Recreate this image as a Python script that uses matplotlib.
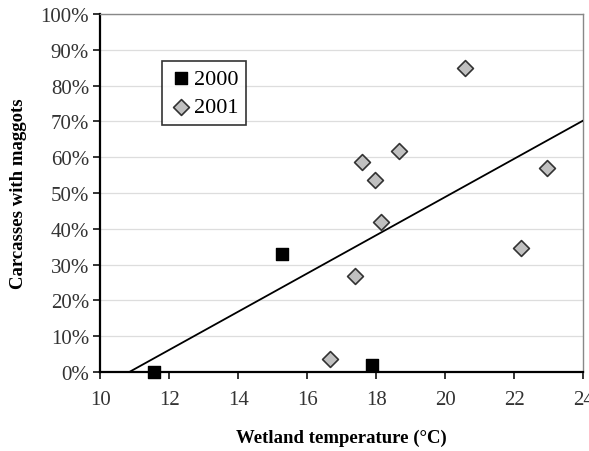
import numpy as np
import matplotlib.pyplot as plt
from matplotlib.ticker import PercentFormatter

plt.rcParams['font.family'] = ['Liberation Serif', 'DejaVu Serif']

# data
temp_2000 = [11.55, 15.27, 17.88]
pct_2000 = [0.0, 33.0, 2.0]

temp_2001 = [16.67, 17.39, 17.58, 17.97, 18.15, 18.67, 20.59, 22.19, 22.95]
pct_2001 = [3.7, 26.9, 58.6, 53.5, 42.0, 61.7, 85.0, 34.6, 57.0]

# trend line ends
trend_x = [10.85, 24.0]
trend_y = [0.0, 70.2]

fig = plt.figure(figsize=(5.89, 4.52), dpi=100)
ax = fig.add_axes([0.17, 0.175, 0.82, 0.792])

ax.plot(trend_x, trend_y, color='black', lw=1.3, zorder=3)
ax.scatter(temp_2000, pct_2000, marker='s', s=85, color='black',
           edgecolor='black', label='2000', zorder=4, clip_on=False)
ax.scatter(temp_2001, pct_2001, marker='D', s=65, color='#c0c0c0',
           edgecolor='#333333', linewidth=1.2, label='2001', zorder=4, clip_on=False)

ax.set_xlim(10, 24)
ax.set_ylim(0, 100)
ax.set_xticks(np.arange(10, 25, 2))
ax.set_yticks(np.arange(0, 101, 10))
ax.yaxis.set_major_formatter(PercentFormatter(decimals=0))
ax.grid(axis='y', color='#dddddd', lw=0.9)
ax.set_axisbelow(True)

for s in ['left', 'bottom']:
    ax.spines[s].set_linewidth(1.6)
    ax.spines[s].set_color('black')
for s in ['top', 'right']:
    ax.spines[s].set_linewidth(1.0)
    ax.spines[s].set_color('#888888')

ax.tick_params(direction='out', length=5, width=1.4, labelsize=15, colors='#333333')
ax.tick_params(axis='x', pad=8)
ax.tick_params(axis='y', pad=3)

ax.set_xlabel('Wetland temperature (°C)', fontsize=13.5, fontweight='bold', labelpad=14)
ax.set_ylabel('Carcasses with maggots', fontsize=13.5, fontweight='bold', labelpad=10)

leg = ax.legend(loc='upper left', bbox_to_anchor=(0.128, 0.869), borderaxespad=0,
                fontsize=16, frameon=True, fancybox=False, edgecolor='black',
                handletextpad=0.1, borderpad=0.35, labelspacing=0.35, handlelength=1.0)
leg.get_frame().set_linewidth(1.2)

plt.savefig('out.png', dpi=100)
